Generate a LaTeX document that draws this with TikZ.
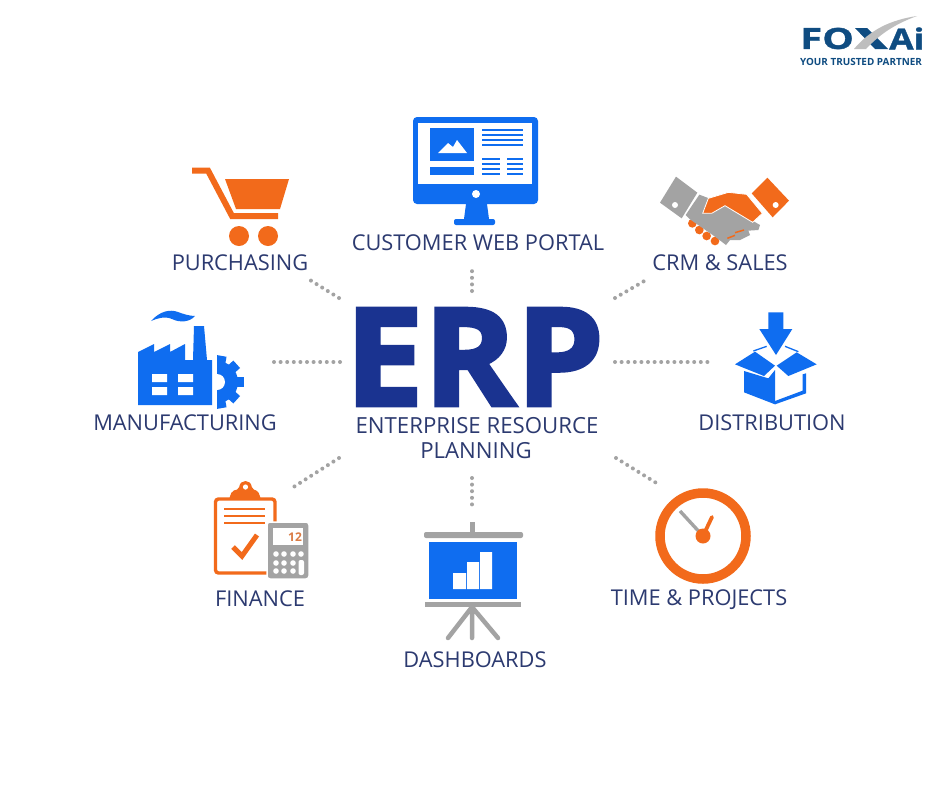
\documentclass[tikz,border=0pt]{standalone}
\usepackage{fontspec}
\setmainfont{Open Sans}
\newfontfamily\erpfont[FakeBold=2.6,FakeStretch=1.03]{Open Sans}
\newfontfamily\logofont[FakeBold=1.2,FakeStretch=1.22]{Open Sans}
\newfontfamily\logowidefont[FakeBold=1.2,FakeStretch=1.38]{Open Sans}
\definecolor{iconblue}{HTML}{0F6DF0}
\definecolor{iconorange}{HTML}{F26A1B}
\definecolor{icongray}{HTML}{A3A3A3}
\definecolor{erpblue}{HTML}{1A3390}
\definecolor{labelblue}{HTML}{2C3A70}
\definecolor{logoblue}{HTML}{0F4C81}
\tikzset{
  label/.style={inner sep=0pt, text=labelblue, font=\fontsize{21.8}{22}\selectfont},
  dotline/.style={line width=4pt, color=icongray, line cap=round, dash pattern=on 0pt off 6.6pt},
  logotext/.style={inner sep=0pt, text=logoblue, font=\fontsize{29}{30}\selectfont\logofont\bfseries}
}

\begin{document}
\begin{tikzpicture}[x=1pt,y=-1pt]
\useasboundingbox (0,0) rectangle (940,788);
\fill[white] (0,0) rectangle (940,788);

\node[inner sep=0pt, text=erpblue, font=\fontsize{136}{136}\selectfont\erpfont\bfseries] (erp) at (474.5,357) {ERP};
\node[label,font=\fontsize{22.2}{22}\selectfont] (enterprise) at (477,426) {ENTERPRISE RESOURCE};
\node[label,font=\fontsize{22.2}{22}\selectfont] (planning) at (476,451) {PLANNING};

\node[label] (purchasing) at (240,263) {PURCHASING};
\node[label] (portal) at (478,243) {CUSTOMER WEB PORTAL};
\node[label] (crm) at (720,263) {CRM \& SALES};
\node[label] (manufacturing) at (185,423) {MANUFACTURING};
\node[label] (distribution) at (772,423) {DISTRIBUTION};
\node[label] (finance) at (260,599) {FINANCE};
\node[label] (dashboards) at (475,660) {DASHBOARDS};
\node[label] (time) at (699,600) {TIME \& PROJECTS};

% dotted spokes
\coordinate (spoke1a) at (339,298); \coordinate (spoke1b) at (310,280);
\coordinate (spoke2a) at (472,291); \coordinate (spoke2b) at (472,265);
\coordinate (spoke3a) at (615,298); \coordinate (spoke3b) at (646,280);
\coordinate (spoke4a) at (340,362); \coordinate (spoke4b) at (269,362);
\coordinate (spoke5a) at (615,362); \coordinate (spoke5b) at (708,362);
\coordinate (spoke6a) at (339,458); \coordinate (spoke6b) at (292,488);
\coordinate (spoke7a) at (472,478); \coordinate (spoke7b) at (472,505);
\coordinate (spoke8a) at (616,458); \coordinate (spoke8b) at (658,484);
\foreach \n in {1,...,8}
  \draw[dotline] (spoke\n a) -- (spoke\n b);

% cart
\draw[iconorange,line width=6pt] (192,170.5) -- (208,170.5) -- (232,216) -- (278,216);
\fill[iconorange] (225,179) -- (289,179) -- (280,209) -- (236,209) -- cycle;
\fill[iconorange] (239,236) circle[radius=10] (268,236) circle[radius=10];

% monitor
\fill[iconblue,rounded corners=4pt] (413,117) rectangle (538,204);
\fill[iconblue] (466,204) -- (487,204) -- (489,219) -- (464,219) -- cycle;
\fill[iconblue,rounded corners=2pt] (454,219) rectangle (495,225);
\fill[white] (418,123) rectangle (532,184);
\fill[white] (476,194) circle[radius=4];
\fill[iconblue] (430,128) rectangle (474,161);
\fill[white] (438,153) -- (448,143) -- (453,147) -- (457,140) -- (467,153) -- cycle;
\fill[iconblue] (430,167) rectangle (474,175);
\foreach \y in {130,135,140,145}
  \draw[iconblue,line width=2.4pt] (482,\y) -- (523,\y);
\foreach \y in {159,164,169,174} {
  \draw[iconblue,line width=2.4pt] (482,\y) -- (500,\y);
  \draw[iconblue,line width=2.4pt] (507,\y) -- (523,\y);
}

% handshake
\begin{scope}[shift={(640,160)},scale=1/3]
\fill[icongray] (108,50) -- (172,98) -- (125,175) -- (60,128) -- cycle;
\fill[white] (105,135) circle[radius=9];
\fill[iconorange] (382,53) -- (447,122) -- (398,172) -- (335,100) -- cycle;
\fill[white] (407,135) circle[radius=9];
\fill[iconorange] (157,190) circle[radius=13] (178,210) circle[radius=13] (200,228) circle[radius=13] (225,243) circle[radius=13];
\fill[icongray] (178,104) -- (215,118) -- (200,150) -- (250,135) -- (300,160) -- (360,195) -- (355,210) -- (325,212) -- (330,225) -- (300,240) -- (270,240) -- (258,255) -- (228,232) -- (150,178) -- (137,165) -- cycle;
\fill[iconorange,draw=white,line width=0.8pt] (188,160) -- (205,115) -- (265,97) -- (320,103) -- (367,160) -- (338,187) -- (255,137) -- (215,160) -- cycle;
\draw[iconorange,line width=1.5pt] (285,218) -- (312,210) (262,235) -- (285,226);
\end{scope}

% factory
\fill[iconblue] (151,321) .. controls (160,311) and (170,309) .. (178,312) .. controls (183,314) and (190,316) .. (195,316) .. controls (190,322) and (180,323) .. (172,319) .. controls (165,316) and (158,318) .. (151,321) -- cycle;
\fill[iconblue] (217,361) arc[start angle=-90,end angle=90,radius=21] -- cycle;
\foreach \a in {-80,-42,0,42,80}
  \fill[iconblue,rotate around={\a:(217,382)}] (232,377) rectangle (243.5,387);
\fill[white] (217,355) rectangle (212,410);
\fill[white] (217,382) circle[radius=8];
\fill[iconblue] (138,352) -- (154,344) -- (154,352) -- (170,344) -- (170,352) -- (185,344) -- (185,360) -- (193,360) -- (194,326) -- (204,326) -- (207,360) -- (212,360) -- (212,405) -- (138,405) -- cycle;
\fill[white] (152,374) rectangle (167,382) (178,374) rectangle (193,382) (152,387) rectangle (167,395) (178,387) rectangle (193,395);

% box
\begin{scope}[shift={(720,305)},scale=1/3]
\fill[iconblue] (145,22) -- (190,22) -- (190,72) -- (217,72) -- (168,150) -- (118,72) -- (145,72) -- cycle;
\fill[iconblue] (72,198) -- (145,220) -- (165,195) -- (165,298) -- (72,262) -- cycle;
\fill[iconblue] (258,205) -- (258,265) -- (165,298) -- (165,288) -- (248,257) -- (248,208) -- cycle;
\fill[iconblue] (45,178) -- (105,140) -- (165,182) -- (132,213) -- cycle;
\fill[iconblue] (290,178) -- (230,142) -- (170,182) -- (205,213) -- cycle;
\draw[iconblue,line width=1.3pt] (100,138) -- (140,124) (195,124) -- (235,140);
\end{scope}

% clipboard and calculator
\draw[iconorange,line width=3.4pt,rounded corners=3pt] (215.5,499) rectangle (275,573);
\fill[iconorange,rounded corners=2pt] (229,499) -- (232,491) -- (239,489) .. controls (240,479) and (251,479) .. (252,489) -- (258,491) -- (261,499) -- cycle;
\fill[white] (245.5,487) circle[radius=2.6];
\foreach \y in {509,516,523}
  \draw[iconorange,line width=2.8pt] (224,\y) -- (265,\y);
\draw[iconorange,line width=5pt] (233,547) -- (242,556) -- (257,535);
\fill[icongray,draw=white,line width=1.5pt,rounded corners=3pt] (267,522) rectangle (309,579);
\fill[white] (273,528) rectangle (303,545);
\node[inner sep=0pt, text=iconorange!70!icongray, font=\fontsize{12}{12}\selectfont\bfseries] (calcdisplay) at (295,537) {12};
\foreach \x in {276,284,293}
  \foreach \y in {554,563,571}
    \fill[white] (\x,\y) circle[radius=2.8];
\fill[white] (301,554) circle[radius=2.8];
\fill[white,rounded corners=2pt] (298.5,560) rectangle (304,575);

% easel
\fill[icongray] (470,522) rectangle (475,534);
\fill[icongray,rounded corners=2pt] (424,532) rectangle (523,538);
\fill[iconblue] (429,542) rectangle (517,599);
\fill[white] (453,573) rectangle (466,589) (467,562) rectangle (479,589) (480,552) rectangle (492,589);
\fill[icongray] (425,602) rectangle (521,607);
\draw[icongray,line width=4.5pt,line cap=round] (472,607) -- (448,638) (472,607) -- (472,638) (472,607) -- (498,638);

% clock
\draw[iconorange,line width=9.5pt] (703,536) circle[radius=43];
\draw[icongray,line width=3.4pt] (680,511) -- (703,536);
\draw[iconorange,line width=3.8pt,line cap=round] (703,536) -- (712,517);
\fill[iconorange] (703,536) circle[radius=7.5];

% logo
\node[logotext,anchor=west,font=\fontsize{29}{30}\selectfont\logowidefont\bfseries] (logofo) at (800,38.5) {FO};
\node[logotext,anchor=west] (logoai) at (889,38.5) {Ai};
\fill[logoblue] (855,28) -- (867,28) -- (888,49) -- (875,49) -- cycle;
\fill[icongray!70] (854,49) .. controls (870,30) and (890,20) .. (917,16) .. controls (895,24) and (880,34) .. (866,49) -- cycle;
\node[inner sep=0pt, text=logoblue, font=\fontsize{9.9}{10}\selectfont\bfseries] (logotag) at (861,62) {YOUR TRUSTED PARTNER};
\end{tikzpicture}
\end{document}
